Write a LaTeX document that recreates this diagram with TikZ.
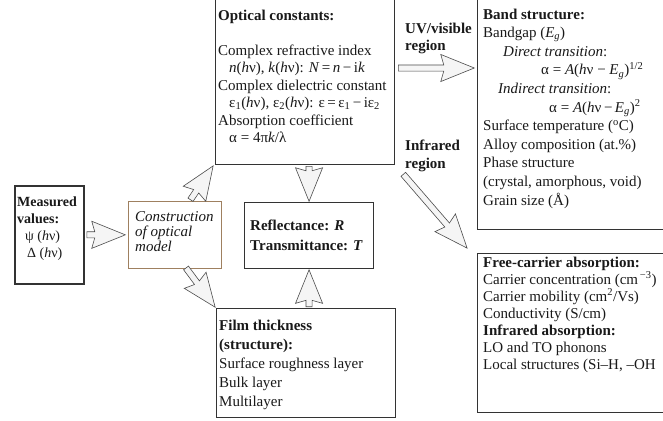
\documentclass[tikz,border=0pt]{standalone}
\usepackage{fontspec}
\setmainfont{Liberation Serif}
\usetikzlibrary{shapes.arrows,calc}
\tikzset{
  box/.style={draw=black!80, line width=1.1pt, anchor=north west, inner sep=0pt},
  txt/.style={anchor=north west, align=left, inner sep=0pt, text=black!90},
  fs/.style={font=\fontsize{15}{#1}\selectfont},
  barrow/.style={single arrow, draw=black!70, fill=black!4, line width=0.6pt,
    inner xsep=0pt, inner ysep=2.75pt, single arrow head extend=10.5pt,
    single arrow tip angle=44, single arrow head indent=3pt, minimum width=0pt},
}
\newcommand{\blockarrow}[3]{%
  \path let \p1=#1, \p2=#2, \n1={atan2(\y2-\y1,\x2-\x1)}, \n2={veclen(\x2-\x1,\y2-\y1)} in
    node[barrow, anchor=tail, rotate=\n1, minimum height=\n2*1pt] (#3) at (\p1) {};}
\begin{document}
\begin{tikzpicture}[x=1pt,y=-1pt]
\useasboundingbox (0,0) rectangle (663,420);
\clip (0,0) rectangle (663,420);
\fill[white] (0,0) rectangle (663,420);

% boxes
\node[box, minimum width=179pt, minimum height=169pt] (opt) at (215,-5) {};
\node[box, minimum width=200pt, minimum height=234pt] (band) at (477,-5) {};
\node[box, minimum width=200pt, minimum height=159pt] (free) at (477,253) {};
\node[box, line width=1.6pt, minimum width=69pt, minimum height=98pt] (meas) at (14,185) {};
\node[box, draw=brown!50!gray, line width=0.7pt, minimum width=93pt, minimum height=67pt] (cons) at (128,201) {};
\node[box, minimum width=129pt, minimum height=66pt] (refl) at (244,202) {};
\node[box, minimum width=179pt, minimum height=109pt] (film) at (216,308) {};

% texts
\node[txt, fs=17.5] (topt) at (218,9.5) {\textbf{Optical constants:}\\[17.5pt]
Complex refractive index\\
\hspace*{11pt}\textit{n}(\textit{h}ν), \textit{k}(\textit{h}ν): \textit{N}\,=\,\textit{n}\,−\,i\textit{k}\\
Complex dielectric constant\\
\hspace*{11pt}ε\textsubscript{1}(\textit{h}ν), ε\textsubscript{2}(\textit{h}ν): ε\,=\,ε\textsubscript{1}\,−\,iε\textsubscript{2}\\
Absorption coefficient\\
\hspace*{11pt}α = 4π\textit{k}/λ};

\node[txt, fs=18.6] (tband) at (483,8.5) {\textbf{Band structure:}\\
Bandgap (\textit{E}\textsubscript{\textit{g}})\\
\hspace*{20pt}\textit{Direct transition}:\\
\hspace*{58pt}α = \textit{A}(\textit{h}ν − \textit{E}\textsubscript{\textit{g}})\textsuperscript{1/2}\\
\hspace*{15pt}\textit{Indirect transition}:\\
\hspace*{66pt}α = \textit{A}(\textit{h}ν\,−\,\textit{E}\textsubscript{\textit{g}})\textsuperscript{2}\\
Surface temperature (\textsuperscript{o}C)\\
Alloy composition (at.\%)\\
Phase structure\\
(crystal, amorphous, void)\\
Grain size (Å)};

\node[txt, fs=17] (tfree) at (483,256.5) {\textbf{Free-carrier absorption:}\\
Carrier concentration (cm\textsuperscript{\,−3})\\
Carrier mobility (cm\textsuperscript{2}/Vs)\\
Conductivity (S/cm)\\
\textbf{Infrared absorption:}\\
LO and TO phonons\\
Local structures (Si–H, –OH};

\node[txt, font=\fontsize{14}{17}\selectfont] (tmeas) at (17,196.5) {\textbf{Measured}\\
\textbf{values:}\\
\hspace*{8pt}ψ (\textit{h}ν)\\
\hspace*{10pt}Δ (\textit{h}ν)};

\node[txt, fs=15] (tcons) at (135,211.5) {\textit{Construction}\\
\textit{of optical}\\
\textit{model}};

\node[txt, fs=20] (trefl) at (250,219.5) {\textbf{Reflectance: \textit{R}}\\
\textbf{Transmittance: \textit{T}}};

\node[txt, fs=19] (tfilm) at (219,319.5) {\textbf{Film thickness}\\
\textbf{(structure):}\\
Surface roughness layer\\
Bulk layer\\
Multilayer};

\node[txt, fs=17] (luv) at (405,22.5) {\textbf{UV/visible}\\ \textbf{region}};
\node[txt, fs=18] (lir) at (405,139.5) {\textbf{Infrared}\\ \textbf{region}};

% arrows
\blockarrow{($(meas.east)+(2,0)$)}{($(cons.west)+(-3,0)$)}{a1}
\blockarrow{($(cons.north)+(15.5,-1)$)}{($(opt.south west)+(-2,1)$)}{a2}
\blockarrow{($(cons.south)+(11,-1)$)}{($(film.north west)+(-1,-1)$)}{a3}
\blockarrow{($(opt.south -| refl.north)+(0,1)$)}{($(refl.north)+(0,-1)$)}{a4}
\blockarrow{($(film.north -| refl.south)+(0,-1)$)}{($(refl.south)+(0,1)$)}{a5}
\blockarrow{($(opt.north east)+(3,73)$)}{($(band.north west)+(-3,73)$)}{a6}
\blockarrow{($(opt.south east)+(8,9)$)}{($(free.north west)+(-10,-5)$)}{a7}
\end{tikzpicture}
\end{document}
